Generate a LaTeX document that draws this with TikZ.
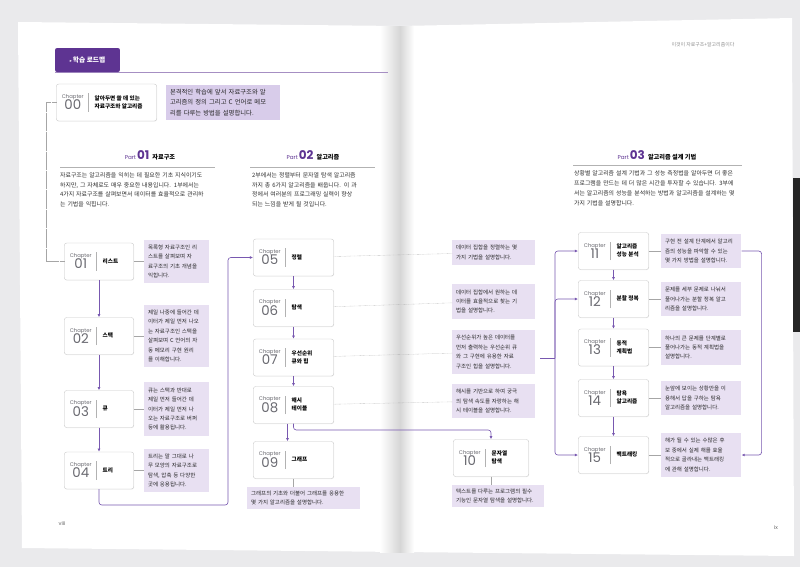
\documentclass[tikz,border=0pt]{standalone}
\usepackage{fontspec}
\setmainfont{Noto Sans CJK KR}
\newfontfamily\latinfont{Poppins}
\newfontfamily\symfont{DejaVu Sans}
\usetikzlibrary{positioning,arrows.meta,shadows}

\definecolor{roadpurple}{RGB}{94,52,146}
\definecolor{linkpurple}{RGB}{120,88,176}
\definecolor{notefill}{RGB}{232,224,242}
\definecolor{introfill}{RGB}{216,204,234}
\definecolor{deskgray}{RGB}{234,234,236}
\definecolor{numgray}{RGB}{105,105,112}

\newcommand{\chapcell}[3]{%
  \parbox[c]{1.25cm}{\centering\latinfont\color{numgray}%
    {\fontsize{7.5}{8}\selectfont Chapter}\\[-1pt]%
    {\fontsize{19}{19}\selectfont #1}}%
  \hspace{0.15cm}{\color{black!30}\vrule width 0.6pt height 15pt depth 11pt}%
  \hspace{0.3cm}\parbox[c]{#3}{\fontsize{8}{11.5}\selectfont\bfseries #2}}

\begin{document}
\begin{tikzpicture}[x=0.05cm, y=-0.05cm,
    chapbox/.style={draw=black!22, fill=white, rounded corners=3.5pt,
        line width=0.5pt, minimum height=1.85cm, inner xsep=0.2cm,
        inner ysep=0pt,
        drop shadow={opacity=0.12, shadow xshift=0.6pt, shadow yshift=-0.9pt}},
    summary/.style={fill=notefill, inner xsep=0.2cm, inner ysep=0.26cm,
        text width=#1, align=left, text=black!85,
        font=\fontsize{7.8}{13.4}\selectfont},
    summary/.default=2.85cm,
    partintro/.style={anchor=north west, inner sep=0pt, align=left,
        text=black!82, font=\fontsize{8.4}{14.2}\selectfont},
    parthead/.style={inner sep=0pt, font=\bfseries\fontsize{8.8}{10}\selectfont},
    partrule/.style={draw=black!30, line width=0.6pt},
    tab/.style={fill=roadpurple, text=white, rounded corners=3pt,
        minimum width=3.25cm, minimum height=1.2cm,
        font=\bfseries\fontsize{9.5}{10}\selectfont},
    flow/.style={draw=linkpurple, line width=0.9pt, rounded corners=4pt,
        -{Latex[length=4.5pt,width=4pt]}},
    leader/.style={draw=black!35, densely dotted, line width=0.5pt},
    folio/.style={text=black!60, font=\latinfont\fontsize{7.5}{8}\selectfont}
]
\useasboundingbox (0,0) rectangle (800,567);

% desk and the two pages
\fill[deskgray] (0,0) rectangle (800,567);
\fill[white] (18,22) -- (400,26) -- (400,552) -- (22,548) -- cycle;
\fill[white] (400,26) -- (792,18) -- (794,556) -- (400,552) -- cycle;
\shade[left color=white, right color=black!16] (380,26) rectangle (400,552);
\shade[left color=black!16, right color=white] (400,26) rectangle (414,552);
\fill[black!85] (793,178) rectangle (800,332);

% header tab
\draw[partrule, draw=roadpurple!55] (55,72) -- (388,72);
\node[tab] (roadmap) at (87.5,60) {{\symfont\fontsize{6}{6}\selectfont ▸}\,학습 로드맵};
\node[text=black!45, font=\fontsize{7}{8}\selectfont] (runhead) at (703,45)
    {이것이 자료구조+알고리즘이다};

% Chapter 00
\node[chapbox] (c00) at (106.5,102.5)
    {\chapcell{00}{알아두면 쓸 데 있는\\자료구조와 알고리즘}{2.9cm}};
\node[summary=5.3cm, fill=introfill, inner ysep=0.2cm,
    font=\fontsize{9}{15}\selectfont, right=0.45cm of c00] (s00)
    {본격적인 학습에 앞서 자료구조와 알\\고리즘의 정의 그리고 C 언어로 메모\\리를 다루는 방법을 설명합니다.};

% Part 01
\node[parthead] (part01) at (150,155)
    {\textcolor{roadpurple}{{\latinfont\mdseries\fontsize{8}{8}\selectfont Part}\,{\latinfont\fontsize{17}{17}\selectfont 01}}\enspace 자료구조};
\draw[partrule] (60,167) -- (215,167);
\node[partintro, text width=7.8cm] (intro01) at (60,172)
    {자료구조는 알고리즘을 익히는 데 필요한 기초 지식이기도\\하지만, 그 자체로도 매우 중요한 내용입니다. 1부에서는\\4가지 자료구조를 살펴보면서 데이터를 효율적으로 관리하\\는 기법을 익힙니다.};

\node[chapbox] (c01) at (99,261.5) {\chapcell{01}{리스트}{1.35cm}};
\node[chapbox] (c02) at (99,336) {\chapcell{02}{스택}{1.35cm}};
\node[chapbox] (c03) at (99,409) {\chapcell{03}{큐}{1.35cm}};
\node[chapbox] (c04) at (99,470.5) {\chapcell{04}{트리}{1.35cm}};

\node[summary, right=0.5cm of c01] (s01)
    {목록형 자료구조인 리\\스트를 살펴보며 자\\료구조의 기초 개념을\\익힙니다.};
\node[summary, right=0.5cm of c02] (s02)
    {제일 나중에 들어간 데\\이터가 제일 먼저 나오\\는 자료구조인 스택을\\살펴보며 C 언어의 자\\동 메모리 구현 원리\\를 이해합니다.};
\node[summary, right=0.5cm of c03] (s03)
    {큐는 스택과 반대로\\제일 먼저 들어간 데\\이터가 제일 먼저 나\\오는 자료구조로 버퍼\\등에 활용됩니다.};
\node[summary, right=0.5cm of c04] (s04)
    {트리는 말 그대로 나\\무 모양의 자료구조로\\탐색, 압축 등 다양한\\곳에 응용됩니다.};

% Part 02
\node[parthead] (part02) at (313,155)
    {\textcolor{roadpurple}{{\latinfont\mdseries\fontsize{8}{8}\selectfont Part}\,{\latinfont\fontsize{17}{17}\selectfont 02}}\enspace 알고리즘};
\draw[partrule] (250,167) -- (375,167);
\node[partintro, text width=5.9cm] (intro02) at (252,172)
    {2부에서는 정렬부터 문자열 탐색 알고리즘\\까지 총 6가지 알고리즘을 배웁니다. 이 과\\정에서 여러분의 프로그래밍 실력이 향상\\되는 느낌을 받게 될 것입니다.};

\node[chapbox] (c05) at (293.5,257.5) {\chapcell{05}{정렬}{1.9cm}};
\node[chapbox] (c06) at (293.5,308) {\chapcell{06}{탐색}{1.9cm}};
\node[chapbox] (c07) at (293.5,357.5) {\chapcell{07}{우선순위\\큐와 힙}{1.9cm}};
\node[chapbox] (c08) at (293.5,405) {\chapcell{08}{해시\\테이블}{1.9cm}};
\node[chapbox] (c09) at (293.5,460) {\chapcell{09}{그래프}{1.9cm}};
\node[chapbox] (c10) at (491,458) {\chapcell{10}{문자열\\탐색}{1.65cm}};

\node[summary=3.75cm, anchor=west] (s05) at (452,252.5)
    {데이터 집합을 정렬하는 몇\\가지 기법을 설명합니다.};
\node[summary=3.75cm, anchor=west] (s06) at (452,301.5)
    {데이터 집합에서 원하는 데\\이터를 효율적으로 찾는 기\\법을 설명합니다.};
\node[summary=3.75cm, anchor=west] (s07) at (452,352)
    {우선순위가 높은 데이터를\\먼저 출력하는 우선순위 큐\\와 그 구현에 유용한 자료\\구조인 힙을 설명합니다.};
\node[summary=3.75cm, anchor=west] (s08) at (452,401)
    {해시를 기반으로 하여 궁극\\의 탐색 속도를 자랑하는 해\\시 테이블을 설명합니다.};
\node[summary=5.25cm, inner ysep=0.18cm, anchor=north west] (s09) at (247,487)
    {그래프의 기초와 더불어 그래프를 응용한\\몇 가지 알고리즘을 설명합니다.};
\node[summary=4.2cm, inner ysep=0.18cm, anchor=north west] (s10) at (452,485)
    {텍스트를 다루는 프로그램의 필수\\기능인 문자열 탐색을 설명합니다.};

% Part 03
\node[parthead] (part03) at (657,155)
    {\textcolor{roadpurple}{{\latinfont\mdseries\fontsize{8}{8}\selectfont Part}\,{\latinfont\fontsize{17}{17}\selectfont 03}}\enspace 알고리즘 설계 기법};
\draw[partrule] (573,165) -- (742,165);
\node[partintro, text width=8.6cm] (intro03) at (574,170)
    {상황별 알고리즘 설계 기법과 그 성능 측정법을 알아두면 더 좋은\\프로그램을 만드는 데 더 많은 시간을 투자할 수 있습니다. 3부에\\서는 알고리즘의 성능을 분석하는 방법과 알고리즘을 설계하는 몇\\가지 기법을 설명합니다.};

\node[chapbox] (c11) at (613.5,251) {\chapcell{11}{알고리즘\\성능 분석}{1.4cm}};
\node[chapbox] (c12) at (613.5,299) {\chapcell{12}{분할 정복}{1.4cm}};
\node[chapbox] (c13) at (613.5,347.5) {\chapcell{13}{동적\\계획법}{1.4cm}};
\node[chapbox] (c14) at (613.5,398) {\chapcell{14}{탐욕\\알고리즘}{1.4cm}};
\node[chapbox] (c15) at (613.5,455) {\chapcell{15}{백트래킹}{1.4cm}};

\node[summary=3.62cm, right=0.6cm of c11] (s11)
    {구현 전 설계 단계에서 알고리\\즘의 성능을 파악할 수 있는\\몇 가지 방법을 설명합니다.};
\node[summary=3.62cm, right=0.6cm of c12] (s12)
    {문제를 세부 문제로 나눠서\\풀어나가는 분할 정복 알고\\리즘을 설명합니다.};
\node[summary=3.62cm, right=0.6cm of c13] (s13)
    {하나의 큰 문제를 단계별로\\풀어나가는 동적 계획법을\\설명합니다.};
\node[summary=3.62cm, right=0.6cm of c14] (s14)
    {눈앞에 보이는 상황만을 이\\용해서 답을 구하는 탐욕\\알고리즘을 설명합니다.};
\node[summary=3.62cm, right=0.6cm of c15] (s15)
    {해가 될 수 있는 수많은 후\\보 중에서 실제 해를 효율\\적으로 골라내는 백트래킹\\에 관해 설명합니다.};

% dotted leaders to the summaries
\draw[leader] (c00.west) -- ++(-10,0) |- (c01.west);
\draw[leader] (c01) -- (s01);
\draw[leader] (c02) -- (s02);
\draw[leader] (c03) -- (s03);
\draw[leader] (c04) -- (s04);
\draw[leader] (c05) -- (s05);
\draw[leader] (c06) -- (s06);
\draw[leader] (c07) -- (s07);
\draw[leader] (c08) -- (s08);
\draw[leader] (c09.south) -- (c09.south |- s09.north);
\draw[leader] (c10.south) -- (c10.south |- s10.north);
\draw[leader] (c11) -- (s11);
\draw[leader] (c12) -- (s12);
\draw[leader] (c13) -- (s13);
\draw[leader] (c14) -- (s14);
\draw[leader] (c15) -- (s15);

% reading order
\coordinate (part1exit) at (228,505);
\coordinate (hashexit) at (400,430);
\coordinate (railin) at (540,358);
\coordinate (rail) at (555,358);

\draw[flow] (c01) -- (c02);
\draw[flow] (c02) -- (c03);
\draw[flow] (c03) -- (c04);
\draw[flow] (c04.south) |- (part1exit) |- (c05.west);

\draw[flow] (c05) -- (c06);
\draw[flow] (c06) -- (c07);
\draw[flow] (c07) -- (c08);
\draw[flow] ([xshift=-0.3cm]c08.south) -- ([xshift=-0.3cm]c09.north);
\draw[flow] (c08.south) |- (hashexit) -| (c10.north);

\draw[flow, -] (railin) -- (rail);
\draw[flow] (rail) |- (c11.west);
\draw[flow] (rail) |- (c12.west);
\draw[flow] (rail) |- (c15.west);

\draw[flow] (c11) -- (c12);
\draw[flow] (c12) -- (c13);
\draw[flow] (c13) -- (c14);
\draw[flow] (c14) -- (c15);
\draw[flow] (s11.east) -- ++(20,0) |- (s15.east);

% folios
\node[folio] (leftfolio) at (62,523) {viii};
\node[folio] (rightfolio) at (776,527) {ix};

\end{tikzpicture}
\end{document}
